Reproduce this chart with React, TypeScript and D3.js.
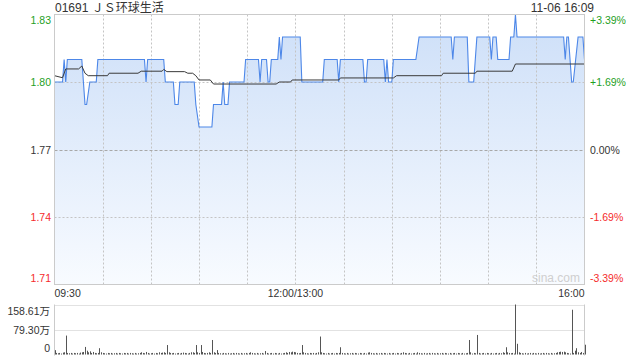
import React from "react";
import * as d3 from "d3";

const TITLE = "01691 ＪＳ环球生活";
const STAMP = "11-06 16:09";
const WATERMARK = "sina.com";

const PRICE_TICKS = [1.83, 1.8, 1.77, 1.74, 1.71];
const PRICE_TICK_LABELS = ["1.83", "1.80", "1.77", "1.74", "1.71"];
const PCT_TICK_LABELS = ["+3.39%", "+1.69%", "0.00%", "-1.69%", "-3.39%"];
const TICK_TONE = ["up", "up", "flat", "down", "down"];

const TIME_TICK_MIN = [0, 150, 330];
const TIME_TICK_LABELS = ["09:30", "12:00/13:00", "16:00"];

const VOL_TICKS = [158.61, 79.3, 0];
const VOL_TICK_LABELS = ["158.61万", "79.30万", "0"];

// price line (minute index, price)
const PRICE_MIN = [0, 5, 6, 7, 8, 17, 19, 20, 22, 26, 27, 56, 57, 58, 68, 69, 74, 75, 77, 78, 87, 88, 90, 98, 99, 104, 105, 106, 108, 109, 118, 119, 127, 128, 129, 132, 133, 134, 135, 139, 140, 141, 142, 153, 154, 167, 168, 176, 177, 178, 192, 193, 194, 195, 205, 206, 207, 208, 210, 211, 225, 227, 247, 248, 249, 257, 258, 261, 263, 271, 272, 273, 275, 276, 283, 284, 286, 287, 288, 317, 318, 319, 320, 322, 323, 326, 329, 330];
const PRICE_VAL = [1.8, 1.8, 1.81, 1.8, 1.81, 1.81, 1.79, 1.79, 1.8, 1.8, 1.81, 1.81, 1.8, 1.81, 1.81, 1.8, 1.8, 1.79, 1.79, 1.8, 1.8, 1.79, 1.78, 1.78, 1.79, 1.79, 1.8, 1.79, 1.79, 1.8, 1.8, 1.81, 1.81, 1.8, 1.81, 1.81, 1.8, 1.8, 1.81, 1.81, 1.82, 1.81, 1.82, 1.82, 1.8, 1.8, 1.81, 1.81, 1.8, 1.81, 1.81, 1.8, 1.8, 1.81, 1.81, 1.8, 1.81, 1.8, 1.8, 1.81, 1.81, 1.82, 1.82, 1.81, 1.82, 1.82, 1.8, 1.8, 1.82, 1.82, 1.81, 1.82, 1.82, 1.81, 1.81, 1.82, 1.82, 1.83, 1.82, 1.82, 1.81, 1.82, 1.82, 1.8, 1.8, 1.82, 1.82, 1.81];

// average price line
const AVG_MIN = [0, 5, 7, 15, 17, 19, 21, 33, 34, 52, 54, 67, 68, 70, 81, 83, 86, 88, 90, 97, 99, 138, 140, 147, 148, 177, 178, 211, 213, 241, 242, 262, 263, 285, 287, 330];
const AVG_VAL = [1.8028, 1.8019, 1.8058, 1.8058, 1.8071, 1.8039, 1.8028, 1.8028, 1.8039, 1.8039, 1.8048, 1.8048, 1.8056, 1.8046, 1.8046, 1.8039, 1.8039, 1.8028, 1.8009, 1.8009, 1.7991, 1.7991, 1.8, 1.8, 1.8009, 1.8009, 1.8018, 1.8018, 1.8028, 1.8028, 1.8039, 1.8039, 1.8048, 1.8048, 1.808, 1.808];

// volume per minute (万)
const VOLUME = [
  13.8, 5, 4, 5, 3, 6, 7, 60, 5, 4, 5, 3, 5, 4, 5, 3, 6, 7, 8, 24, 12, 7, 10, 5, 8, 5, 4, 5, 20, 7,
  5, 4, 3, 5, 4, 5, 3, 4, 5, 3, 5, 4, 3, 5, 4, 5, 3, 5, 4, 3, 5, 3, 4, 5, 7, 5, 4, 8, 5, 3,
  4, 5, 3, 5, 4, 7, 5, 6, 7, 5, 30, 7, 5, 4, 5, 3, 4, 5, 3, 5, 6, 5, 4, 3, 5, 7, 7, 5, 30, 7,
  5, 30, 8, 5, 4, 5, 7, 5, 46, 7, 5, 14, 5, 4, 3, 5, 4, 3, 5, 3, 4, 5, 3, 5, 4, 3, 5, 3, 4, 5,
  3, 5, 7, 5, 4, 3, 5, 3, 4, 5, 3, 11, 5, 3, 4, 5, 3, 5, 4, 3, 5, 3, 4, 5, 7, 5, 8, 7, 9, 8,
  7, 5, 4, 5, 30, 7, 5, 4, 3, 5, 4, 5, 3, 5, 7, 57, 7, 5, 4, 3, 5, 3, 4, 5, 3, 5, 4, 5, 23, 5,
  4, 3, 5, 3, 4, 5, 3, 5, 4, 3, 5, 4, 3, 5, 3, 6, 7, 5, 4, 3, 5, 3, 4, 5, 3, 5, 4, 3, 5, 3,
  4, 5, 3, 5, 4, 3, 5, 7, 5, 4, 3, 5, 3, 4, 5, 3, 7, 5, 4, 3, 5, 3, 4, 5, 3, 5, 4, 3, 5, 3,
  4, 5, 3, 5, 4, 3, 5, 3, 4, 5, 3, 5, 4, 3, 5, 3, 4, 5, 46, 7, 3, 5, 4, 62, 5, 3, 4, 5, 3, 5,
  4, 3, 5, 3, 4, 5, 3, 5, 4, 7, 5, 23, 7, 5, 4, 5, 3, 158.61, 34, 7, 5, 4, 3, 5, 3, 4, 5, 3, 5, 4,
  3, 5, 3, 4, 5, 3, 5, 4, 3, 5, 3, 4, 5, 7, 8, 9, 8, 9, 7, 5, 4, 3, 142, 5, 12, 20, 7, 5, 8, 5,
  31,
];

const W = 640;
const H = 360;
const L = 54.5;
const R = 584.5;
const T = 14.5;
const B = 284.5;
const VT = 304.5;
const VB = 354.5;

const GREEN = "#1f9f1f";
const RED = "#f52b2b";
const DARK = "#333333";
const FONT = "'Liberation Sans', Arial, 'Noto Sans CJK SC', sans-serif";

export default function App() {
  const x = d3.scaleLinear().domain([0, 330]).range([L, R]);
  const y = d3.scaleLinear().domain([1.71, 1.83]).range([B, T]);
  const yv = d3.scaleLinear().domain([0, 158.61]).range([VB, VT]);

  const pricePts = PRICE_MIN.map((m, i) => [m, PRICE_VAL[i]] as [number, number]);
  const avgPts = AVG_MIN.map((m, i) => [m, AVG_VAL[i]] as [number, number]);

  const line = d3
    .line<[number, number]>()
    .x((d) => x(d[0]))
    .y((d) => y(d[1]));
  const area = d3
    .area<[number, number]>()
    .x((d) => x(d[0]))
    .y0(B)
    .y1((d) => y(d[1]));

  const vGrid = d3.range(30, 330, 30);
  const toneColor = (t: string) => (t === "up" ? GREEN : t === "down" ? RED : DARK);

  return (
    <svg
      width={W}
      height={H}
      style={{ position: "absolute", left: 0, top: 0, background: "#fff" }}
      fontFamily={FONT}
    >
      <defs>
        <linearGradient id="fillg" x1="0" y1={T} x2="0" y2={B} gradientUnits="userSpaceOnUse">
          <stop offset="0" stopColor="#cddff8" />
          <stop offset="1" stopColor="#f8fbff" />
        </linearGradient>
      </defs>

      <text x={55} y={12} fontSize={12} fill={DARK}>
        {TITLE}
      </text>
      <text x={594} y={11.5} fontSize={12} fill={DARK} textAnchor="end">
        {STAMP}
      </text>

      <path d={area(pricePts) || ""} fill="url(#fillg)" />

      {vGrid.map((m) => (
        <line
          key={m}
          x1={Math.round(x(m)) + 0.5}
          x2={Math.round(x(m)) + 0.5}
          y1={T}
          y2={B}
          stroke="#c4c4c4"
          strokeDasharray="2,2"
        />
      ))}
      {PRICE_TICKS.slice(1, -1).map((v, i) => (
        <line
          key={v}
          x1={L}
          x2={R}
          y1={Math.round(y(v)) + 0.5}
          y2={Math.round(y(v)) + 0.5}
          stroke={v === 1.77 ? "#a8a8a8" : "#c4c4c4"}
          strokeDasharray={v === 1.77 ? "3,2" : "2,2"}
        />
      ))}

      <path d={line(pricePts) || ""} fill="none" stroke="#4d87e8" strokeWidth={1.1} />
      <path d={line(avgPts) || ""} fill="none" stroke="#3a3a3a" strokeWidth={1} />

      <rect x={L} y={T} width={R - L} height={B - T} fill="none" stroke="#cbcbcb" />

      {PRICE_TICKS.map((v, i) => {
        const yy = y(v);
        const base = i === 0 ? yy + 9.5 : i === PRICE_TICKS.length - 1 ? yy - 2.5 : yy + 4;
        const c = toneColor(TICK_TONE[i]);
        return (
          <g key={v}>
            <text x={51} y={base} fontSize={10.5} fill={c} textAnchor="end">
              {PRICE_TICK_LABELS[i]}
            </text>
            <text x={590} y={base} fontSize={10.5} fill={c}>
              {PCT_TICK_LABELS[i]}
            </text>
          </g>
        );
      })}

      <text x={532} y={282} fontSize={12} fill="#cfcfcf">
        {WATERMARK}
      </text>

      {TIME_TICK_MIN.map((m, i) => (
        <text
          key={m}
          x={i === 0 ? L : i === TIME_TICK_MIN.length - 1 ? R : x(m)}
          y={297}
          fontSize={10.5}
          fill={DARK}
          textAnchor={i === 0 ? "start" : i === TIME_TICK_MIN.length - 1 ? "end" : "middle"}
        >
          {TIME_TICK_LABELS[i]}
        </text>
      ))}

      {VOL_TICKS.slice(0, 2).map((v) => (
        <line
          key={v}
          x1={L}
          x2={R}
          y1={Math.round(yv(v)) + 0.5}
          y2={Math.round(yv(v)) + 0.5}
          stroke="#c4c4c4"
          strokeDasharray="1,1"
        />
      ))}
      <line x1={L} x2={L} y1={VT} y2={VB + 1} stroke="#cbcbcb" />
      <line x1={R} x2={R} y1={VT} y2={VB + 1} stroke="#cbcbcb" />

      {VOLUME.map((v, i) => (
        <line
          key={i}
          x1={Math.round(x(i)) + 0.5}
          x2={Math.round(x(i)) + 0.5}
          y1={yv(0)}
          y2={yv(v)}
          stroke="#555"
          strokeWidth={1}
        />
      ))}

      {VOL_TICKS.map((v, i) => {
        const base = i === 0 ? 315 : i === 1 ? 333.5 : 352;
        return (
          <text key={v} x={50} y={base} fontSize={10.5} fill={DARK} textAnchor="end">
            {VOL_TICK_LABELS[i]}
          </text>
        );
      })}
    </svg>
  );
}
